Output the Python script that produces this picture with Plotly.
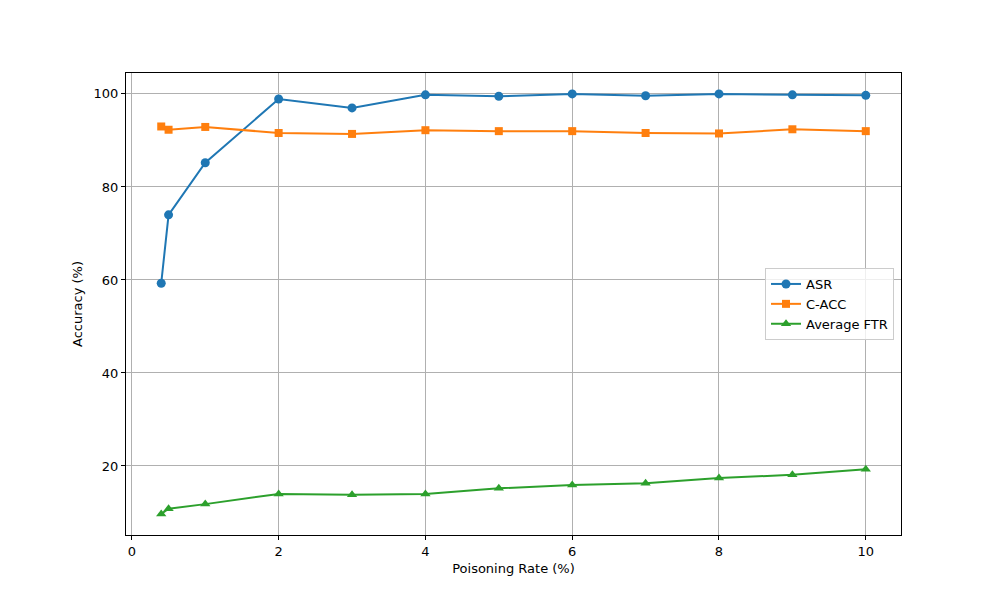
import plotly.graph_objects as go

rates = [0.4, 0.5, 1, 2, 3, 4, 5, 6, 7, 8, 9, 10]
asr = [59.3, 74.0, 85.2, 98.9, 97.0, 99.8, 99.5, 100.0, 99.6, 100.0, 99.8, 99.7]
cacc = [93.0, 92.3, 92.9, 91.6, 91.4, 92.2, 92.0, 92.0, 91.6, 91.5, 92.4, 92.0]
ftr = [9.7, 10.8, 11.8, 14.0, 13.8, 14.0, 15.2, 15.9, 16.3, 17.4, 18.1, 19.3]

fig = go.Figure()
fig.add_trace(go.Scatter(x=rates, y=asr, name="ASR", mode="lines+markers",
                         line=dict(color="#1f77b4", width=2),
                         marker=dict(symbol="circle", size=9, color="#1f77b4")))
fig.add_trace(go.Scatter(x=rates, y=cacc, name="C-ACC", mode="lines+markers",
                         line=dict(color="#ff7f0e", width=2),
                         marker=dict(symbol="square", size=8, color="#ff7f0e")))
fig.add_trace(go.Scatter(x=rates, y=ftr, name="Average FTR", mode="lines+markers",
                         line=dict(color="#2ca02c", width=2),
                         marker=dict(symbol="triangle-up", size=9, color="#2ca02c")))

axis_style = dict(showline=True, linecolor="black", linewidth=1, mirror=True,
                  ticks="outside", ticklen=4, tickcolor="black",
                  showgrid=True, gridcolor="#b0b0b0", gridwidth=1,
                  zeroline=False, tickfont=dict(size=13, color="black"))

fig.update_xaxes(range=[-0.08, 10.48], tickvals=[0, 2, 4, 6, 8, 10],
                 title=dict(text="Poisoning Rate (%)", font=dict(size=13, color="black"), standoff=6),
                 **axis_style)
fig.update_yaxes(range=[5.16, 104.5], tickvals=[20, 40, 60, 80, 100],
                 title=dict(text="Accuracy (%)", font=dict(size=13, color="black"), standoff=8),
                 **axis_style)

# page body adds ~7px offset, so shift the plot area up/left
fig.update_layout(
    width=1000, height=600,
    margin=dict(l=118, r=107, t=65, b=73),
    paper_bgcolor="white", plot_bgcolor="white",
    font=dict(family="DejaVu Sans", size=13, color="black"),
    legend=dict(x=0.991, y=0.5, xanchor="right", yanchor="middle",
                bgcolor="rgba(255,255,255,0.8)", bordercolor="#cccccc", borderwidth=1,
                font=dict(size=13)),
)

fig.write_html("out.html")
